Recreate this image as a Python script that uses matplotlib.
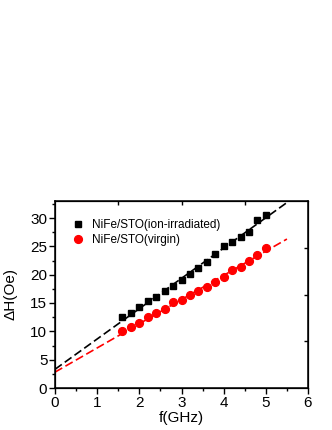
import numpy as np
import matplotlib
matplotlib.use("Agg")
import matplotlib.pyplot as plt

plt.rcParams['font.family'] = ['Liberation Sans', 'DejaVu Sans']

freq = [1.6, 1.8, 2.0, 2.2, 2.4, 2.6, 2.8, 3.0, 3.2, 3.4, 3.6, 3.8, 4.0, 4.2, 4.4, 4.6, 4.8, 5.0]
dh_irradiated = [12.5, 13.3, 14.3, 15.3, 16.1, 17.1, 18.0, 19.1, 20.2, 21.2, 22.2, 23.7, 25.1, 25.7, 26.6, 27.5, 29.6, 30.6]
dh_virgin = [10.0, 10.8, 11.5, 12.5, 13.2, 14.0, 15.1, 15.5, 16.4, 17.1, 17.8, 18.7, 19.6, 20.8, 21.3, 22.5, 23.5, 24.7]

# linear fits (intercept, slope)
fit_irradiated = (3.3, 5.35)
fit_virgin = (2.8, 4.27)
fit_range = [0, 5.5]

labels = ['NiFe/STO(ion-irradiated)', 'NiFe/STO(virgin)']

fig = plt.figure(figsize=(3.32, 4.30), dpi=100)
ax = fig.add_axes([55/332, 1-388/430, (308-55)/332, (388-201)/430])

xf = np.array(fit_range)
ax.plot(xf, fit_irradiated[0] + fit_irradiated[1]*xf, color='black', lw=1.2, dashes=(5, 2.2), zorder=2)
ax.plot(xf, fit_virgin[0] + fit_virgin[1]*xf, color='#ff0000', lw=1.2, dashes=(5, 2.2), zorder=2)
ax.plot(freq, dh_irradiated, 's', color='black', ms=4.8, label=labels[0], zorder=3)
ax.plot(freq, dh_virgin, 'o', color='#ff0000', ms=5.6, label=labels[1], zorder=3)

ax.set_xlim(0, 6)
ax.set_ylim(0, 33)
ax.set_xticks(np.arange(0, 7, 1))
ax.set_xticks(np.arange(0, 6.01, 0.5), minor=True)
ax.set_yticks(np.arange(0, 31, 5))
ax.set_yticks(np.arange(0, 33, 2.5), minor=True)
ax.tick_params(axis='both', which='major', direction='out', length=4, width=1, labelsize=11, pad=1.5)
ax.tick_params(axis='both', which='minor', direction='out', length=2.5, width=1)
for s in ax.spines.values():
    s.set_linewidth(1.1)

ax2 = ax.twinx()
ax2.set_ylim(0, 33)
ax2.set_yticks([8.25, 16.5, 24.75])
ax2.tick_params(axis='y', direction='in', length=3, width=1, labelright=False)
ax3 = ax.twiny()
ax3.set_xlim(0, 6)
ax3.set_xticks([1.5, 3.0, 4.5])
ax3.tick_params(axis='x', direction='in', length=3, width=1, labeltop=False)

ax.set_xlabel('f(GHz)', fontsize=11, labelpad=1)
ax.set_ylabel('ΔH(Oe)', fontsize=11, labelpad=9)

ax.legend(loc='upper left', bbox_to_anchor=(0.044, 0.93), frameon=False, fontsize=8.5,
          handletextpad=0.55, borderaxespad=0, labelspacing=0.3, handlelength=1.2)

fig.savefig('out.png', dpi=100)
